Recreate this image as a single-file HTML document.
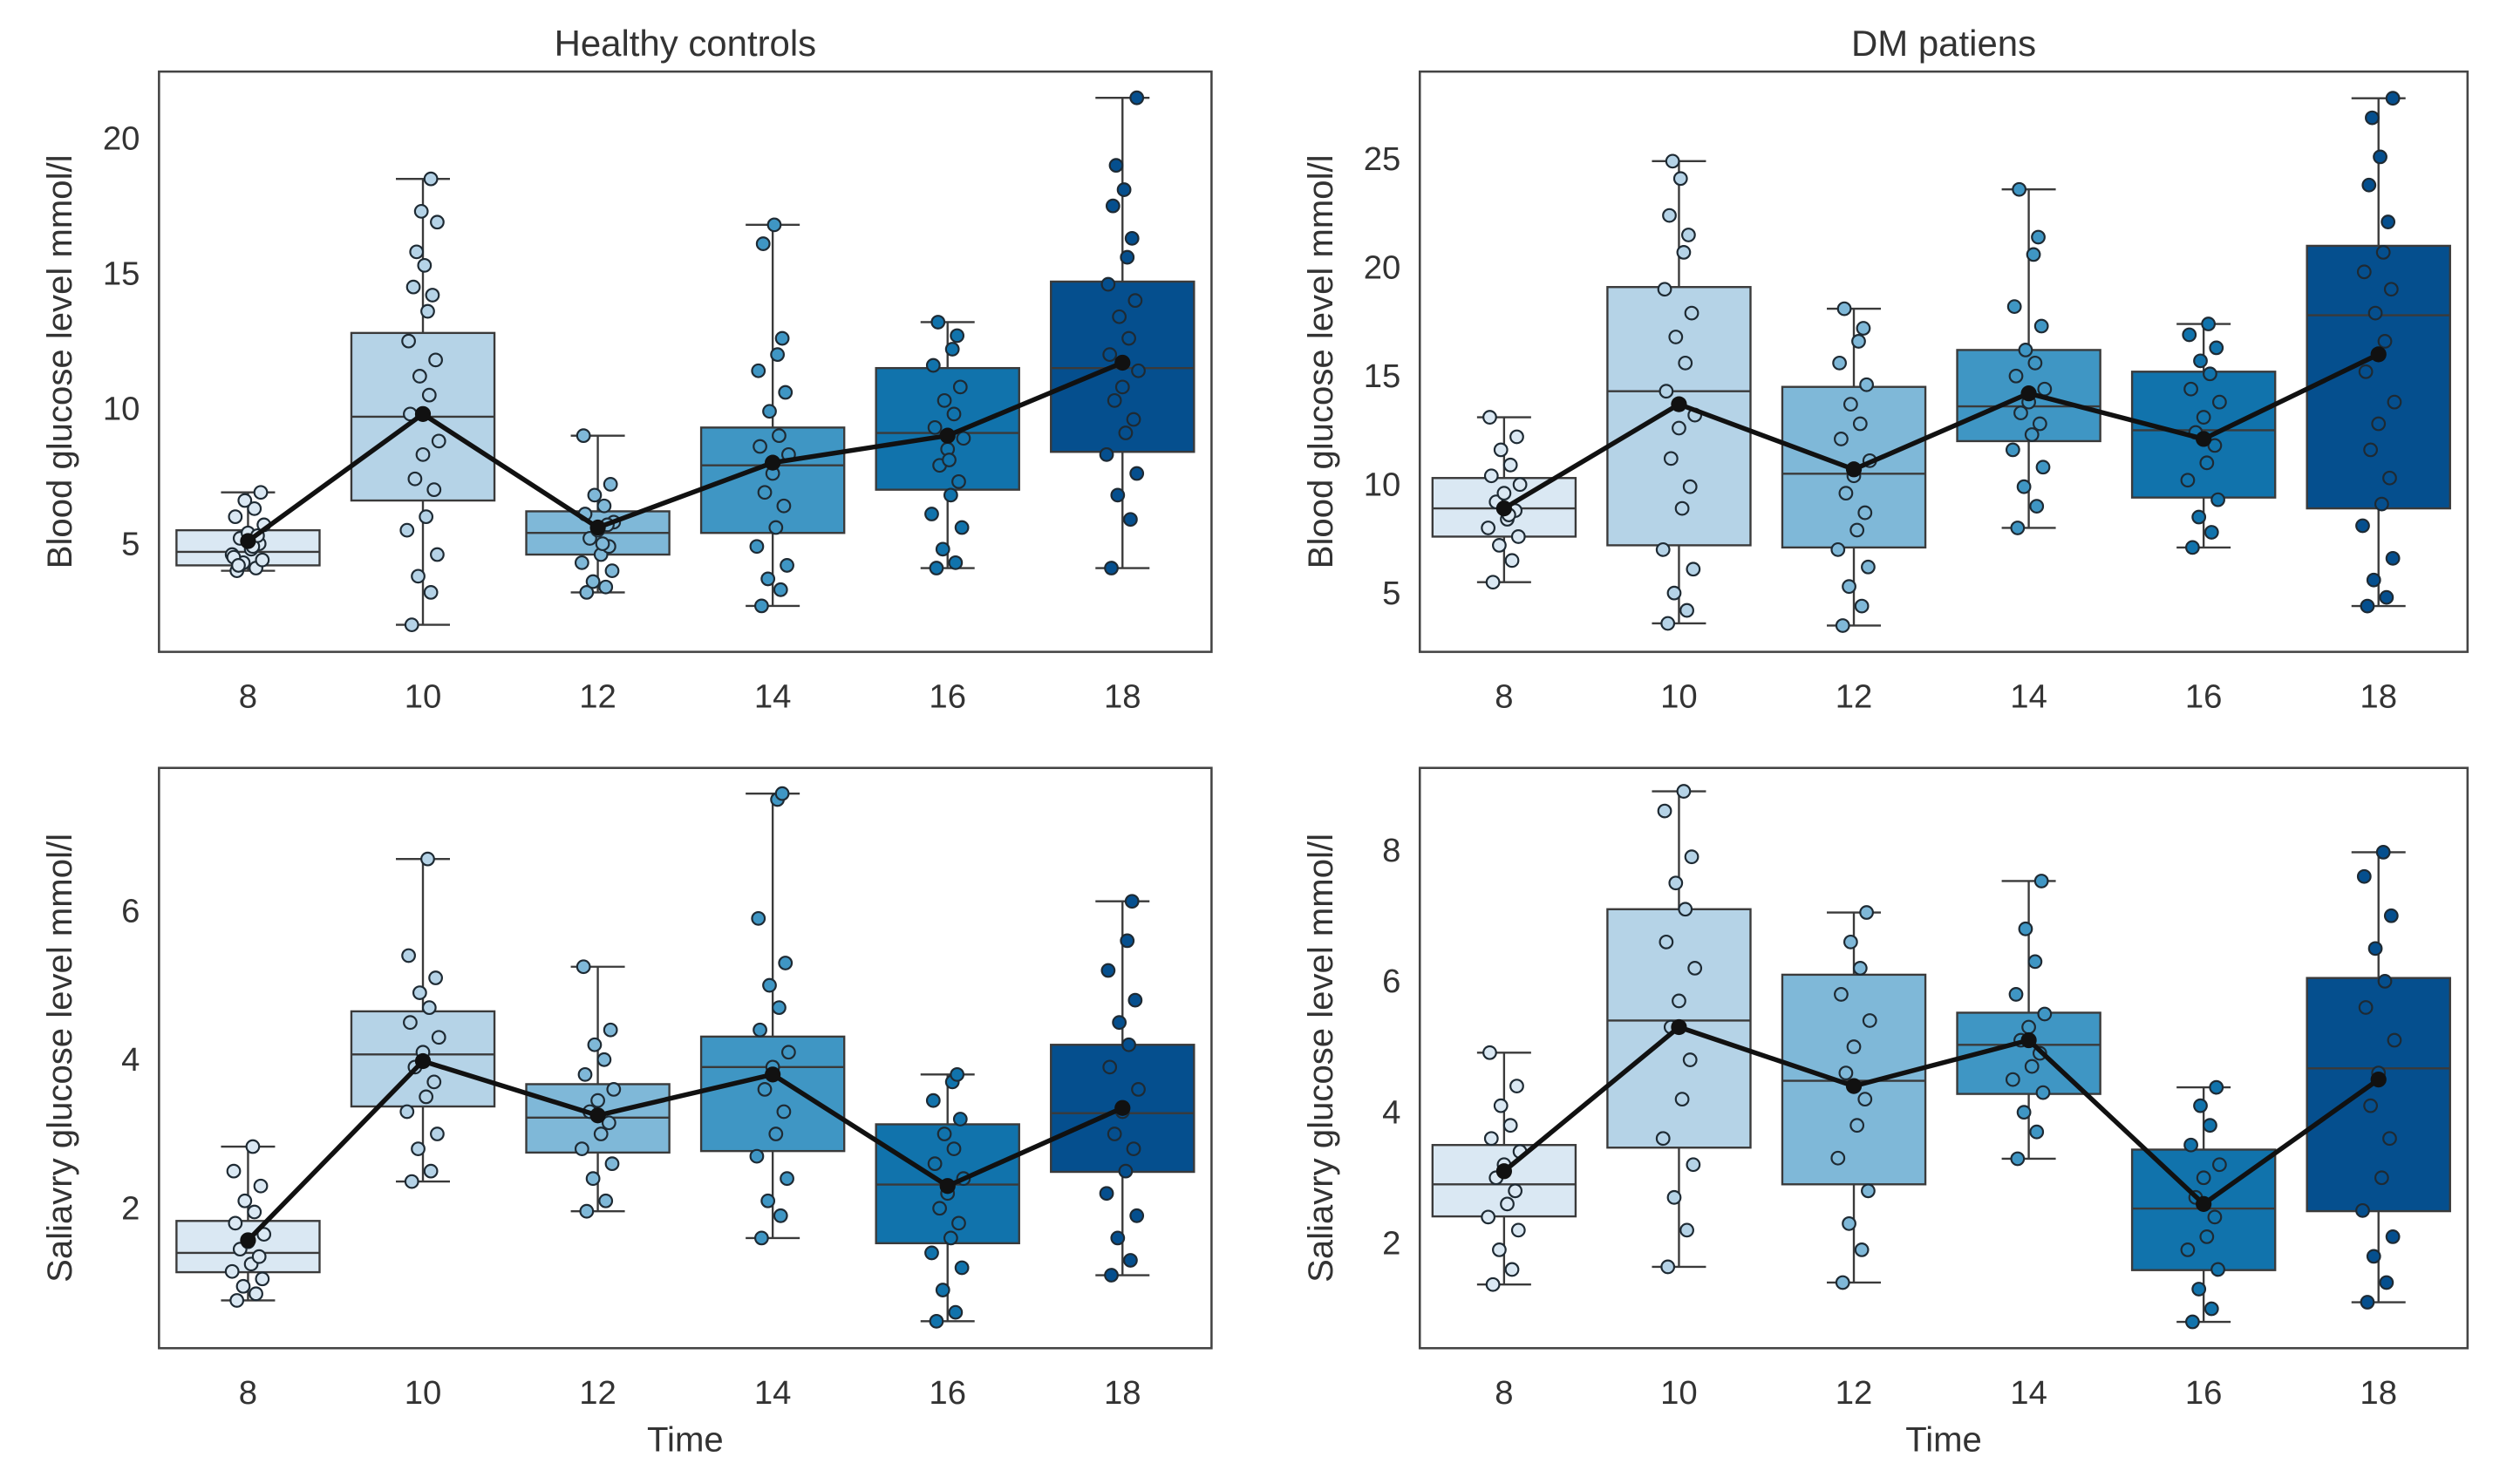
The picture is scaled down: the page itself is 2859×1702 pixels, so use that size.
<!DOCTYPE html>
<html><head><meta charset="utf-8"><style>
html,body{margin:0;padding:0;background:#fff;}
svg{display:block;}
text{font-family:"Liberation Sans",sans-serif;fill:#333;}
</style></head><body>
<svg id="fig" width="2859" height="1702" viewBox="0 0 1568 933.4" xmlns="http://www.w3.org/2000/svg"></svg>
<script>
const categories = [8,10,12,14,16,18];
const colors = ["#dae8f3","#b5d3e7","#7fb8d8","#3f96c4","#1173ac","#054f8e"];
// [lo, q1, med, q3, hi]
const hcBloodBoxes = [[4.0,4.2,4.7,5.5,6.9],[2.0,6.6,9.7,12.8,18.5],[3.2,4.6,5.4,6.2,9.0],[2.7,5.4,7.9,9.3,16.8],[4.1,7.0,9.1,11.5,13.2],[4.1,8.4,11.5,14.7,21.5]];
const hcBloodMeans = [5.1,9.8,5.6,8.0,9.0,11.7];
const hcBloodPoints = [
 [4.0,4.1,4.3,4.4,4.6,4.8,5.0,5.2,5.4,5.7,6.0,6.3,6.6,6.9,4.5,4.9,5.3,4.2],
 [2.0,3.2,3.8,4.6,5.5,6.0,7.0,7.4,8.3,8.8,9.8,10.5,11.2,11.8,12.5,13.6,14.2,14.5,15.3,15.8,16.9,17.3,18.5],
 [3.2,3.4,3.6,4.0,4.3,4.6,4.9,5.2,5.5,5.8,6.1,6.4,6.8,7.2,9.0,5.0,5.7],
 [2.7,3.3,3.7,4.2,4.9,5.6,6.4,6.9,7.6,8.3,8.6,9.0,9.9,10.6,11.4,12.0,12.6,16.1,16.8],
 [4.1,4.3,4.8,5.6,6.1,6.8,7.3,7.9,8.5,8.9,9.3,9.8,10.3,10.8,11.6,12.2,12.7,13.2,8.1],
 [4.1,5.9,6.8,7.6,8.3,9.1,9.6,10.3,10.8,11.4,12.0,12.6,13.4,14.0,14.6,15.6,16.3,17.5,18.1,19.0,21.5]
];
const dmBloodBoxes = [[5.5,7.6,8.9,10.3,13.1],[3.6,7.2,14.3,19.1,24.9],[3.5,7.1,10.5,14.5,18.1],[8.0,12.0,13.6,16.2,23.6],[7.1,9.4,12.5,15.2,17.4],[4.4,8.9,17.8,21.0,27.8]];
const dmBloodMeans = [8.9,13.7,10.7,14.2,12.1,16.0];
const dmBloodPoints = [
 [5.5,6.5,7.2,7.6,8.0,8.4,8.8,9.2,9.6,10.0,10.4,10.9,11.6,12.2,13.1,8.6],
 [3.6,4.2,5.0,6.1,7.0,8.9,9.9,11.2,12.6,13.2,14.3,15.6,16.8,17.9,19.0,20.7,21.5,22.4,24.1,24.9],
 [3.5,4.4,5.3,6.2,7.0,7.9,8.7,9.6,10.4,11.1,12.1,12.8,13.7,14.6,15.6,16.6,17.2,18.1],
 [8.0,9.0,9.9,10.8,11.6,12.3,12.8,13.3,13.8,14.4,15.0,15.6,16.2,17.3,18.2,20.6,21.4,23.6],
 [7.1,7.8,8.5,9.3,10.2,11.0,11.8,12.4,13.1,13.8,14.4,15.1,15.7,16.3,16.9,17.4],
 [4.4,4.8,5.6,6.6,8.1,9.1,10.3,11.6,12.8,13.8,15.2,16.6,17.9,19.0,19.8,20.7,22.1,23.8,25.1,26.9,27.8]
];
const hcSalivaBoxes = [[0.76,1.14,1.4,1.83,2.83],[2.36,3.37,4.07,4.65,6.7],[1.96,2.75,3.22,3.67,5.25],[1.6,2.77,3.9,4.31,7.58],[0.48,1.53,2.32,3.13,3.8],[1.1,2.49,3.28,4.2,6.13]];
const hcSalivaMeans = [1.57,3.98,3.25,3.8,2.3,3.35];
const hcSalivaPoints = [
 [0.76,0.85,0.95,1.05,1.15,1.25,1.35,1.45,1.55,1.65,1.8,1.95,2.1,2.3,2.5,2.83],
 [2.36,2.5,2.8,3.0,3.3,3.5,3.7,3.9,4.1,4.3,4.5,4.7,4.9,5.1,5.4,6.7],
 [1.96,2.1,2.4,2.6,2.8,3.0,3.15,3.3,3.45,3.6,3.8,4.0,4.2,4.4,5.25],
 [1.6,1.9,2.1,2.4,2.7,3.0,3.3,3.6,3.9,4.1,4.4,4.7,5.0,5.3,5.9,7.5,7.58],
 [0.48,0.6,0.9,1.2,1.4,1.6,1.8,2.0,2.2,2.4,2.6,2.8,3.0,3.2,3.45,3.7,3.8],
 [1.1,1.3,1.6,1.9,2.2,2.5,2.8,3.0,3.3,3.6,3.9,4.2,4.5,4.8,5.2,5.6,6.13]
];
const dmSalivaBoxes = [[1.37,2.41,2.9,3.5,4.91],[1.64,3.46,5.4,7.1,8.9],[1.4,2.9,4.48,6.1,7.05],[3.29,4.28,5.03,5.52,7.53],[0.8,1.59,2.53,3.43,4.38],[1.1,2.49,4.67,6.05,7.97]];
const dmSalivaMeans = [3.1,5.3,4.4,5.1,2.6,4.5];
const dmSalivaPoints = [
 [1.37,1.6,1.9,2.2,2.4,2.6,2.8,3.0,3.2,3.4,3.6,3.8,4.1,4.4,4.91],
 [1.64,2.2,2.7,3.2,3.6,4.2,4.8,5.3,5.7,6.2,6.6,7.1,7.5,7.9,8.6,8.9],
 [1.4,1.9,2.3,2.8,3.3,3.8,4.2,4.6,5.0,5.4,5.8,6.2,6.6,7.05],
 [3.29,3.7,4.0,4.3,4.5,4.7,4.9,5.1,5.3,5.5,5.8,6.3,6.8,7.53],
 [0.8,1.0,1.3,1.6,1.9,2.1,2.4,2.7,3.0,3.2,3.5,3.8,4.1,4.38],
 [1.1,1.4,1.8,2.1,2.5,3.0,3.6,4.1,4.6,5.1,5.6,6.0,6.5,7.0,7.6,7.97]
];

const NS="http://www.w3.org/2000/svg";
const svg=document.getElementById('fig');
function mk(tag,attrs,parent){const e=document.createElementNS(NS,tag);for(const k in attrs)e.setAttribute(k,attrs[k]);(parent||svg).appendChild(e);return e;}
const jit=[-7,5,-3,9,-10,2,7,-5,0,10,-8,4,-2,8,-9,3,6,-6,1,-4,9,-1,5];

function panel(cfg){
  const g=mk('g',{});
  
  
  const x=c=>cfg.x0+(c-8)/2*110;
  const y=v=>cfg.yRef-(v-cfg.vRef)*cfg.ppu;
  const fr=mk('rect',{x:cfg.L,y:cfg.T,width:cfg.R-cfg.L,height:cfg.B-cfg.T,fill:'#fff',stroke:'#444','stroke-width':1.4},g);
  
  
  cfg.yticks.forEach(t=>{
    const tx=mk('text',{x:cfg.L-12,y:y(t)+7,'text-anchor':'end','font-size':21},g);tx.textContent=t;
    
    
  });
  categories.forEach(c=>{
    const tx=mk('text',{x:x(c),y:cfg.B+35,'text-anchor':'middle','font-size':21},g);tx.textContent=c;
    
    
  });
  const yl=mk('text',{transform:`translate(${cfg.L-55},${(cfg.T+cfg.B)/2}) rotate(-90)`,'text-anchor':'middle','font-size':22},g);
  yl.textContent=cfg.ylabel;
  
  
  if(cfg.title){const t=mk('text',{x:(cfg.L+cfg.R)/2,y:cfg.T-10,'text-anchor':'middle','font-size':23},g);t.textContent=cfg.title;
    
    }
  if(cfg.xlabel){const t=mk('text',{x:(cfg.L+cfg.R)/2,y:cfg.B+65,'text-anchor':'middle','font-size':22},g);t.textContent=cfg.xlabel;
    
    }
  const hw=45;
  categories.forEach((c,i)=>{
    const [lo,q1,md,q3,hi]=cfg.boxes[i];const cx=x(c);
    const bg=mk('g',{},g);
    
    
    mk('line',{x1:cx,x2:cx,y1:y(hi),y2:y(lo),stroke:'#3a3a3a','stroke-width':1.3},bg);
    mk('line',{x1:cx-17,x2:cx+17,y1:y(hi),y2:y(hi),stroke:'#3a3a3a','stroke-width':1.3},bg);
    mk('line',{x1:cx-17,x2:cx+17,y1:y(lo),y2:y(lo),stroke:'#3a3a3a','stroke-width':1.3},bg);
    mk('rect',{x:cx-hw,y:y(q3),width:2*hw,height:y(q1)-y(q3),fill:colors[i],stroke:'#3a3a3a','stroke-width':1.3},bg);
    mk('line',{x1:cx-hw,x2:cx+hw,y1:y(md),y2:y(md),stroke:'#3a3a3a','stroke-width':1.3},bg);
  });
  categories.forEach((c,i)=>{
    cfg.points[i].forEach((v,k)=>{
      const p=mk('circle',{cx:x(c)+jit[k%jit.length],cy:y(v),r:4,fill:colors[i],stroke:'#1e2a33','stroke-width':1.2},g);
      
      
    });
  });
  const pts=categories.map((c,i)=>x(c)+','+y(cfg.means[i])).join(' ');
  const ml=mk('polyline',{points:pts,fill:'none',stroke:'#111','stroke-width':3},g);
  
  
  categories.forEach((c,i)=>{
    const m=mk('circle',{cx:x(c),cy:y(cfg.means[i]),r:5,fill:'#111'},g);
    
    
  });
}
panel({name:'hc-blood-panel',L:100,R:762,T:45,B:410,x0:156,yRef:342,vRef:5,ppu:17,yticks:[5,10,15,20],boxes:hcBloodBoxes,means:hcBloodMeans,points:hcBloodPoints,ylabel:'Blood glucose level mmol/l',title:'Healthy controls'});
panel({name:'dm-blood-panel',L:893,R:1552,T:45,B:410,x0:946,yRef:373,vRef:5,ppu:13.65,yticks:[5,10,15,20,25],boxes:dmBloodBoxes,means:dmBloodMeans,points:dmBloodPoints,ylabel:'Blood glucose level mmol/l',title:'DM patiens'});
panel({name:'hc-saliva-panel',L:100,R:762,T:483,B:848,x0:156,yRef:760,vRef:2,ppu:46.75,yticks:[2,4,6],boxes:hcSalivaBoxes,means:hcSalivaMeans,points:hcSalivaPoints,ylabel:'Saliavry glucose level mmol/l',xlabel:'Time'});
panel({name:'dm-saliva-panel',L:893,R:1552,T:483,B:848,x0:946,yRef:782,vRef:2,ppu:41.2,yticks:[2,4,6,8],boxes:dmSalivaBoxes,means:dmSalivaMeans,points:dmSalivaPoints,ylabel:'Saliavry glucose level mmol/l',xlabel:'Time'});
</script>
</body></html>
